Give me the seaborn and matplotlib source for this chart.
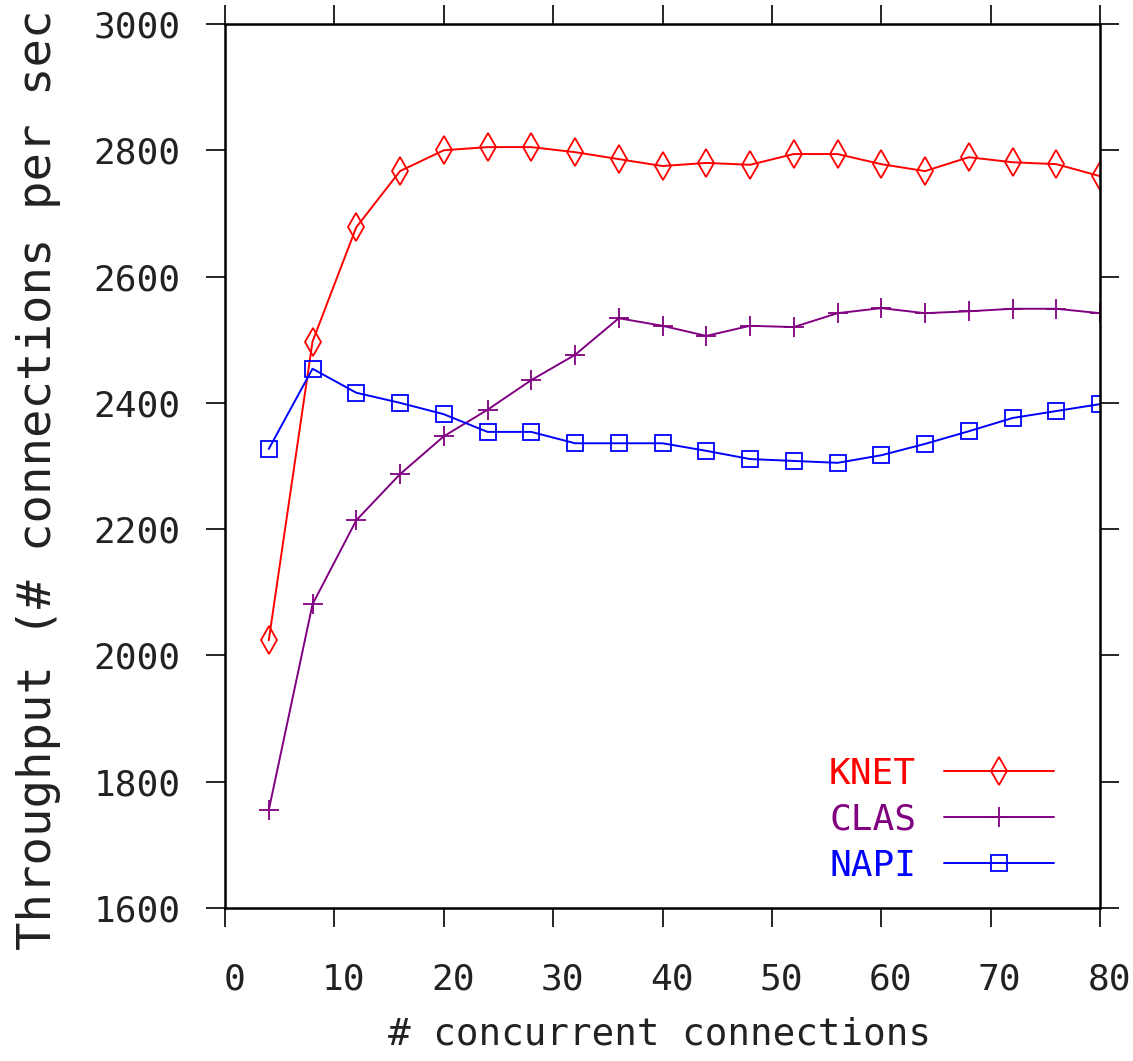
import pandas as pd
import seaborn as sns
import matplotlib.pyplot as plt
import matplotlib.transforms as mtransforms

conexoes = [4, 8, 12, 16, 20, 24, 28, 32, 36, 40, 44, 48, 52, 56, 60, 64, 68, 72, 76, 80]
knet = [2024, 2497, 2678, 2767, 2800, 2805, 2805, 2797, 2786, 2775,
        2780, 2777, 2794, 2794, 2778, 2767, 2789, 2781, 2778, 2759]
clas = [1755, 2081, 2214, 2287, 2347, 2389, 2436, 2476, 2534, 2522,
        2506, 2522, 2520, 2542, 2550, 2542, 2545, 2549, 2549, 2542]
napi = [2327, 2454, 2416, 2400, 2382, 2354, 2354, 2336, 2336, 2336,
        2324, 2311, 2308, 2305, 2317, 2335, 2355, 2376, 2387, 2398]
series = ["KNET", "CLAS", "NAPI"]
xticks = [0, 10, 20, 30, 40, 50, 60, 70, 80]
yticks = [1600, 1800, 2000, 2200, 2400, 2600, 2800, 3000]

dados = pd.DataFrame({
    "conexoes": conexoes * 3,
    "throughput": knet + clas + napi,
    "serie": [s for s in series for _ in conexoes],
})

sns.set_theme(style="white")
plt.rcParams["font.family"] = ["DejaVu Sans Mono"]

cores = {"KNET": "#ff0000", "CLAS": "#800080", "NAPI": "#0000ff"}
marcadores = {"KNET": "d", "CLAS": "+", "NAPI": "s"}
tamanhos = {"KNET": 14, "CLAS": 15, "NAPI": 11}

fig = plt.figure(figsize=(11.33, 10.61), dpi=100)
ax = fig.add_axes([0.1986, 0.1442, 0.7723, 0.8332])

for s in series:
    sns.lineplot(data=dados[dados["serie"] == s], x="conexoes", y="throughput",
                 color=cores[s], marker=marcadores[s], markersize=tamanhos[s],
                 markerfacecolor="none", markeredgecolor=cores[s], markeredgewidth=1.3,
                 linewidth=1.4, label=s, ax=ax)

ax.set_xlim(0, 80)
ax.set_ylim(1600, 3000)
ax.set_xticks(xticks)
ax.set_yticks(yticks)
ax.tick_params(axis="both", which="both", direction="out", length=14, width=1.2,
               color="black", top=True, right=True, bottom=True, left=True,
               labelsize=26, labelcolor="#222222")
ax.tick_params(axis="x", pad=25)
ax.tick_params(axis="y", pad=18)
# gnuplot deixa os numeros do eixo x um pouco deslocados pra direita
desloca = mtransforms.ScaledTranslation(9 / 100, 0, fig.dpi_scale_trans)
for lbl in ax.get_xticklabels():
    lbl.set_transform(lbl.get_transform() + desloca)
for sp in ax.spines.values():
    sp.set_color("black")
    sp.set_linewidth(1.8)

ax.set_xlabel("")
ax.set_ylabel("")
fig.text(0.582, 0.025, "# concurrent connections", ha="center", va="center",
         fontsize=27, color="#222222")
fig.text(0.034, 0.548, "Throughput (# connections per sec", ha="center", va="center",
         rotation=90, fontsize=34, color="#222222")

leg = ax.legend(loc="lower right", bbox_to_anchor=(0.985, -0.008), frameon=False,
                markerfirst=False, labelcolor="linecolor", fontsize=26,
                handlelength=3.05, handletextpad=0.78, labelspacing=0.33)

fig.savefig("out.png", dpi=100)
